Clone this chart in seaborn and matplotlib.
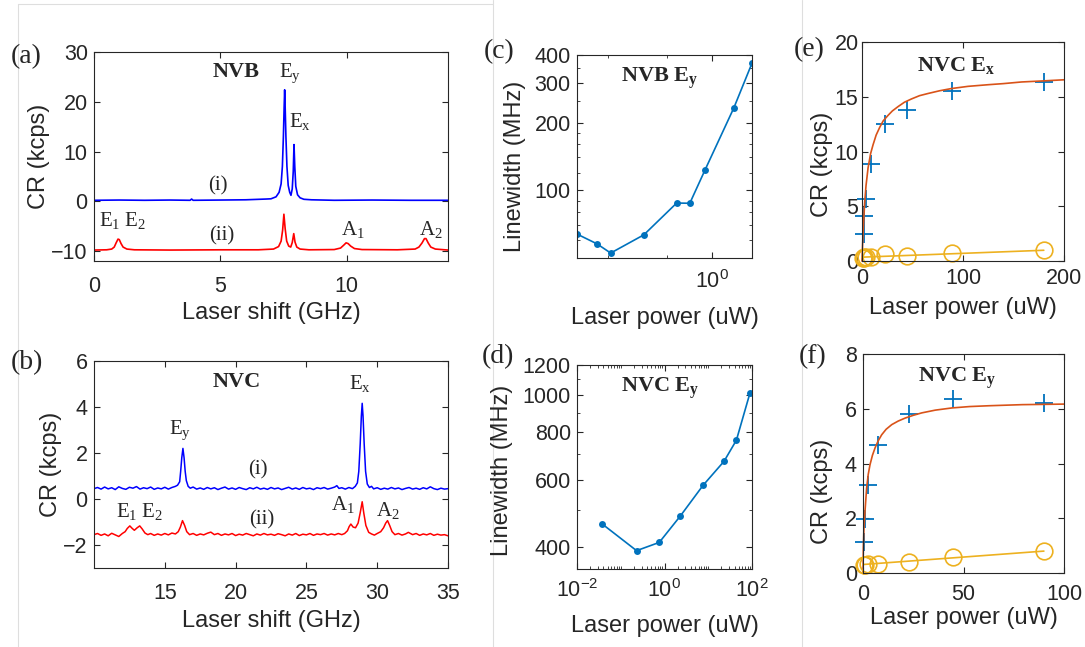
import matplotlib
matplotlib.use("Agg")
import matplotlib.pyplot as plt
import seaborn as sns
from matplotlib.lines import Line2D
from matplotlib.ticker import FixedLocator, NullFormatter, FixedFormatter, LogLocator
import numpy as np

# ---------------- data ----------------
# (a) NVB PLE spectra
nvb_i_x = [0, 1.0, 2.0, 3.0, 3.8, 3.86, 3.92, 5.0, 6.0, 6.8, 7.0, 7.2, 7.32, 7.4, 7.45, 7.49, 7.52, 7.54,
           7.56, 7.59, 7.63, 7.68, 7.74, 7.79, 7.84, 7.88, 7.91, 7.94, 7.98, 8.05, 8.15, 8.3, 8.6, 9.5, 11, 12.5, 14]
nvb_i_y = [0.2, 0.25, 0.2, 0.25, 0.2, 0.45, 0.2, 0.25, 0.3, 0.45, 0.5, 0.9, 1.8, 3.5, 7, 13, 19, 22.4,
           19, 13, 7, 3.2, 1.8, 1.2, 2.5, 6, 11.4, 7, 3, 1.3, 0.7, 0.4, 0.3, 0.2, 0.25, 0.2, 0.2]
nvb_ii_x = [0, 0.5, 0.7, 0.8, 0.88, 0.95, 1.0, 1.07, 1.15, 1.3, 1.6, 3, 5, 6.5, 7.1, 7.3, 7.4, 7.46, 7.51,
            7.56, 7.62, 7.7, 7.78, 7.84, 7.9, 7.95, 8.02, 8.15, 8.5, 9.5, 9.75, 9.88, 9.97, 10.05, 10.15,
            10.3, 10.6, 12, 12.7, 12.85, 12.97, 13.07, 13.13, 13.22, 13.32, 13.5, 14]
nvb_ii_y = [-9.8, -9.75, -9.6, -9.2, -8.3, -7.6, -7.7, -8.5, -9.2, -9.6, -9.75, -9.8, -9.75, -9.75, -9.6,
            -9.1, -8.0, -5.8, -2.6, -5.5, -8.0, -9.0, -9.2, -8.3, -6.5, -8.2, -9.2, -9.6, -9.75, -9.7, -9.4,
            -8.8, -8.35, -8.5, -9.0, -9.5, -9.7, -9.75, -9.6, -9.2, -8.4, -7.5, -7.5, -8.4, -9.2, -9.6, -9.8]

# (b) NVC PLE spectra
nvc_i_x = [10.0, 10.25, 10.5, 10.75, 11.0, 11.25, 11.5, 11.75, 12.0, 12.25, 12.5, 12.75, 13.0, 13.25,
           13.5, 13.75, 14.0, 14.25, 14.5, 14.75, 15.0, 15.25, 15.5, 15.75, 15.9,
           16.05, 16.12, 16.2, 16.28, 16.36, 16.44, 16.52, 16.65, 16.8,
           17.0, 17.25, 17.5, 17.75, 18.0, 18.25, 18.5, 18.75, 19.0, 19.25, 19.5, 19.75, 20.0, 20.25,
           20.5, 20.75, 21.0, 21.25, 21.5, 21.75, 22.0, 22.25, 22.5, 22.75, 23.0, 23.25, 23.5, 23.75,
           24.0, 24.25, 24.5, 24.75, 25.0, 25.25, 25.5, 25.75, 26.0, 26.25, 26.5, 26.75, 27.0, 27.15,
           27.3, 27.5, 27.75, 28.0, 28.25, 28.45,
           28.6, 28.7, 28.8, 28.88, 28.94, 29.0, 29.08, 29.18, 29.3, 29.45,
           29.6, 29.75, 30.0, 30.25, 30.5, 30.75, 31.0, 31.25, 31.5, 31.75, 32.0, 32.25, 32.5, 32.75,
           33.0, 33.25, 33.5, 33.75, 34.0, 34.25, 34.5, 34.75, 35.0]
nvc_i_y = [0.45, 0.50, 0.43, 0.52, 0.44, 0.49, 0.41, 0.53, 0.46, 0.42, 0.51, 0.47, 0.54, 0.43,
           0.49, 0.45, 0.52, 0.42, 0.48, 0.44, 0.51, 0.43, 0.50, 0.55, 0.60,
           0.75, 1.2, 1.8, 2.2, 1.8, 1.2, 0.8, 0.55, 0.47,
           0.52, 0.43, 0.48, 0.42, 0.50, 0.44, 0.49, 0.41, 0.47, 0.52, 0.43, 0.48, 0.42, 0.50,
           0.45, 0.41, 0.49, 0.44, 0.51, 0.43, 0.47, 0.42, 0.50, 0.44, 0.48, 0.41, 0.46, 0.51,
           0.43, 0.48, 0.42, 0.50, 0.44, 0.47, 0.41, 0.49, 0.45, 0.50, 0.43, 0.47, 0.52, 0.58,
           0.46, 0.49, 0.43, 0.50, 0.45, 0.55,
           0.7, 1.2, 2.4, 3.6, 4.16, 3.6, 2.4, 1.2, 0.65, 0.5,
           0.55, 0.44, 0.49, 0.42, 0.47, 0.43, 0.50, 0.44, 0.48, 0.41, 0.46, 0.50, 0.43, 0.47,
           0.42, 0.49, 0.44, 0.53, 0.45, 0.41, 0.47, 0.43, 0.45]
nvc_ii_x = [10.0, 10.25, 10.5, 10.75, 11.0, 11.25, 11.5, 11.75, 12.0, 12.2, 12.35, 12.53, 12.7, 12.85,
            13.05, 13.23, 13.4, 13.6, 13.8, 14.0, 14.25, 14.5, 14.75, 15.0, 15.25, 15.5, 15.75, 15.95,
            16.1, 16.25, 16.4, 16.55, 16.75, 17.0, 17.25, 17.5, 17.75, 18.0, 18.25, 18.5, 18.75, 19.0,
            19.25, 19.5, 19.75, 20.0, 20.25, 20.5, 20.75, 21.0, 21.25, 21.5, 21.75, 22.0, 22.25, 22.5,
            22.75, 23.0, 23.25, 23.5, 23.75, 24.0, 24.25, 24.5, 24.75, 25.0, 25.25, 25.5, 25.75, 26.0,
            26.25, 26.5, 26.75, 27.0, 27.25, 27.5, 27.7, 27.9, 28.02, 28.14, 28.3, 28.47, 28.65, 28.8,
            28.94, 29.05, 29.2, 29.4, 29.6, 29.8, 30.0, 30.25, 30.45, 30.6, 30.73, 30.88, 31.05, 31.25,
            31.5, 31.75, 32.0, 32.2, 32.5, 32.75, 33.0, 33.25, 33.5, 33.75, 34.0, 34.25, 34.5, 34.75, 35.0]
nvc_ii_y = [-1.55, -1.50, -1.58, -1.52, -1.60, -1.49, -1.56, -1.63, -1.50, -1.42, -1.28, -1.17, -1.28,
            -1.36, -1.25, -1.17, -1.30, -1.48, -1.55, -1.50, -1.58, -1.52, -1.57, -1.50, -1.56, -1.48,
            -1.52, -1.42, -1.22, -0.94, -1.15, -1.42, -1.55, -1.50, -1.58, -1.52, -1.56, -1.49, -1.44,
            -1.55, -1.50, -1.58, -1.52, -1.56, -1.50, -1.59, -1.53, -1.57, -1.50, -1.55, -1.60, -1.52,
            -1.57, -1.50, -1.56, -1.53, -1.58, -1.51, -1.55, -1.60, -1.52, -1.57, -1.50, -1.59, -1.53,
            -1.56, -1.50, -1.58, -1.52, -1.55, -1.50, -1.57, -1.52, -1.56, -1.50, -1.55, -1.50, -1.38,
            -1.20, -1.09, -1.22, -1.25, -1.05, -0.60, -0.12, -0.60, -1.15, -1.45, -1.52, -1.57, -1.50,
            -1.42, -1.25, -1.05, -0.94, -1.15, -1.42, -1.55, -1.50, -1.57, -1.52, -1.45, -1.55, -1.50,
            -1.58, -1.52, -1.56, -1.50, -1.58, -1.53, -1.57, -1.55, -1.60]

# (c) NVB Ey linewidth vs power
nvb_lw_power = [0.125, 0.17, 0.21, 0.35, 0.58, 0.71, 0.9, 1.4, 1.85]
nvb_lw = [63.9, 57.8, 52.6, 63.4, 87.8, 87.6, 123.7, 233, 368]

# (d) NVC Ey linewidth vs power
nvc_lw_power = [0.038, 0.23, 0.76, 2.3, 7.6, 23, 44, 90]
nvc_lw = [459, 391, 411, 482, 580, 671, 762, 1014]

# (e) NVC Ex saturation
ex_power = [1.5, 2.0, 3.7, 8.6, 23, 45, 89, 180]
ex_cr = [2.47, 4.07, 5.68, 8.83, 12.47, 13.77, 15.5, 16.35]
ex_bg_power = [0.5, 1.5, 2.0, 3.7, 8.6, 23, 45, 89, 180]
ex_bg_cr = [0.3, 0.3, 0.32, 0.33, 0.36, 0.68, 0.44, 0.75, 0.98]
ex_fit_x = [0, 0.5, 1.0, 1.8, 2.7, 4.0, 6.0, 8.5, 10.9, 14, 17.5, 21, 25.8, 30, 35.7, 42, 49, 57, 65.5,
            77, 88.6, 105, 125, 140, 158, 180, 200]
ex_fit_y = [0, 1.3, 2.4, 3.9, 5.4, 6.9, 8.5, 9.8, 10.6, 11.5, 12.2, 12.8, 13.3, 13.7, 14.1, 14.5, 14.8,
            15.1, 15.3, 15.55, 15.75, 15.95, 16.1, 16.2, 16.35, 16.45, 16.55]
ex_bgfit_x = [0, 180]
ex_bgfit_y = [0.35, 0.98]

# (f) NVC Ey saturation
ey_power = [0.5, 1.0, 2.7, 7.3, 22.7, 44.7, 90]
ey_cr = [1.12, 1.98, 3.2, 4.66, 5.81, 6.36, 6.21]
ey_bg_power = [0.5, 1.0, 2.7, 7.3, 22.7, 44.7, 90]
ey_bg_cr = [0.31, 0.31, 0.32, 0.34, 0.41, 0.59, 0.8]
ey_fit_x = [0, 0.17, 0.5, 1.0, 1.8, 2.6, 3.5, 4.7, 6, 7.5, 9.3, 11.5, 14.3, 17.5, 21, 25, 29.3, 36,
            44.3, 53, 62.7, 71, 79.3, 90, 100]
ey_fit_y = [0, 0.92, 1.7, 2.26, 3.1, 3.6, 3.96, 4.3, 4.57, 4.82, 5.05, 5.25, 5.42, 5.55, 5.66, 5.76,
            5.85, 5.95, 6.03, 6.08, 6.11, 6.13, 6.15, 6.16, 6.17]
ey_bgfit_x = [0, 90]
ey_bgfit_y = [0.31, 0.8]

# ---------------- style ----------------
sns.set_theme(style="ticks")
plt.rcParams.update({
    "font.family": ["Liberation Sans", "DejaVu Sans"],
    "mathtext.fontset": "custom",
    "mathtext.rm": "Liberation Serif",
    "mathtext.it": "Liberation Serif:italic",
    "mathtext.bf": "Liberation Serif:bold",
    "mathtext.sf": "Liberation Sans",
    "axes.edgecolor": "#262626",
    "axes.linewidth": 0.8,
    "xtick.color": "#262626",
    "ytick.color": "#262626",
    "xtick.labelcolor": "#262626",
    "ytick.labelcolor": "#262626",
    "axes.labelcolor": "#262626",
})

W, H = 1085, 647
fig = plt.figure(figsize=(W / 100, H / 100), dpi=100)


def add_ax(l, r, t, b):
    return fig.add_axes([l / W, (H - b) / H, (r - l) / W, (b - t) / H])


TICK_FS = 15.5
LABEL_FS = 17
SERIF = "Liberation Serif"


def style_ax(ax, xpad, ypad):
    ax.tick_params(which="both", direction="in", top=True, right=True)
    ax.tick_params(which="major", length=4, width=0.8, labelsize=TICK_FS)
    ax.tick_params(which="minor", length=2, width=0.6)
    ax.tick_params(axis="x", which="major", pad=xpad)
    ax.tick_params(axis="y", which="major", pad=ypad)
    for s in ax.spines.values():
        s.set_visible(True)
        s.set_color("#262626")
        s.set_linewidth(0.8)


def line(ax, x, y, color, lw=1.2, **kw):
    sns.lineplot(x=x, y=y, ax=ax, color=color, linewidth=lw, sort=False,
                 estimator=None, legend=False, **kw)


# ---------- (a) ----------
ax_a = add_ax(94, 448, 52, 261)
line(ax_a, nvb_i_x, nvb_i_y, "#0000FF")
line(ax_a, nvb_ii_x, nvb_ii_y, "#FF0000")
ax_a.set_xlim(0, 14)
ax_a.set_ylim(-12, 30)
ax_a.set_xticks([0, 5, 10])
ax_a.set_yticks([-10, 0, 10, 20, 30])
style_ax(ax_a, 11, 4.5)
ax_a.set_xlabel("Laser shift (GHz)", fontsize=LABEL_FS)
ax_a.set_ylabel("CR (kcps)", fontsize=LABEL_FS)
ax_a.xaxis.set_label_coords(0.5, -0.195)
ax_a.yaxis.set_label_coords(-0.124, 0.5)
ax_a.text(5.63, 25.9, "NVB", fontsize=16, fontweight="bold", family=SERIF, ha="center", va="center")
ax_a.text(7.74, 25.8, r"$\mathrm{E_y}$", fontsize=15, ha="center", va="center")
ax_a.text(8.13, 16.0, r"$\mathrm{E_x}$", fontsize=15, ha="center", va="center")
ax_a.text(4.9, 3.1, "(i)", fontsize=15, family=SERIF, ha="center", va="center")
ax_a.text(5.04, -6.9, "(ii)", fontsize=15, family=SERIF, ha="center", va="center")
ax_a.text(1.13, -3.9, r"$\mathrm{E_1\ E_2}$", fontsize=15, ha="center", va="center")
ax_a.text(10.24, -5.6, r"$\mathrm{A_1}$", fontsize=15, ha="center", va="center")
ax_a.text(13.33, -5.6, r"$\mathrm{A_2}$", fontsize=15, ha="center", va="center")

# ---------- (b) ----------
ax_b = add_ax(94, 448, 361, 568)
line(ax_b, nvc_i_x, nvc_i_y, "#0000FF", lw=1.1)
line(ax_b, nvc_ii_x, nvc_ii_y, "#FF0000", lw=1.1)
ax_b.set_xlim(10, 35)
ax_b.set_ylim(-3, 6)
ax_b.set_xticks([15, 20, 25, 30, 35])
ax_b.set_yticks([-2, 0, 2, 4, 6])
style_ax(ax_b, 11, 4.5)
ax_b.set_xlabel("Laser shift (GHz)", fontsize=LABEL_FS)
ax_b.set_ylabel("CR (kcps)", fontsize=LABEL_FS)
ax_b.xaxis.set_label_coords(0.5, -0.205)
ax_b.yaxis.set_label_coords(-0.091, 0.5)
ax_b.text(20.07, 5.1, "NVC", fontsize=16, fontweight="bold", family=SERIF, ha="center", va="center")
ax_b.text(28.78, 5.03, r"$\mathrm{E_x}$", fontsize=15, ha="center", va="center")
ax_b.text(16.06, 3.0, r"$\mathrm{E_y}$", fontsize=15, ha="center", va="center")
ax_b.text(21.6, 1.26, "(i)", fontsize=15, family=SERIF, ha="center", va="center")
ax_b.text(21.83, -0.91, "(ii)", fontsize=15, family=SERIF, ha="center", va="center")
ax_b.text(13.19, -0.55, r"$\mathrm{E_1\ E_2}$", fontsize=15, ha="center", va="center")
ax_b.text(27.6, -0.26, r"$\mathrm{A_1}$", fontsize=15, ha="center", va="center")
ax_b.text(30.74, -0.48, r"$\mathrm{A_2}$", fontsize=15, ha="center", va="center")

MBLUE = "#0072BD"
MRED = "#D95319"
MYEL = "#EDB120"

# ---------- (c) ----------
ax_c = add_ax(577, 752, 55, 258)
ax_c.set_xscale("log")
ax_c.set_yscale("log")
line(ax_c, nvb_lw_power, nvb_lw, MBLUE, lw=1.2, marker="o", markersize=5,
     markeredgecolor=MBLUE, markerfacecolor=MBLUE, markeredgewidth=0)
ax_c.set_xlim(0.125, 1.85)
ax_c.set_ylim(50, 400)
ax_c.xaxis.set_major_locator(FixedLocator([1]))
ax_c.xaxis.set_major_formatter(FixedFormatter([r"$\mathsf{10^{0}}$"]))
ax_c.xaxis.set_minor_locator(FixedLocator([0.2, 0.5]))
ax_c.xaxis.set_minor_formatter(NullFormatter())
ax_c.yaxis.set_major_locator(FixedLocator([100, 200, 300, 400]))
ax_c.yaxis.set_major_formatter(FixedFormatter(["100", "200", "300", "400"]))
ax_c.yaxis.set_minor_locator(FixedLocator([60, 70, 80, 90, 120, 140, 160, 180, 250, 350]))
ax_c.yaxis.set_minor_formatter(NullFormatter())
style_ax(ax_c, 9, 4.5)
ax_c.set_xlabel("Laser power (uW)", fontsize=LABEL_FS)
ax_c.set_ylabel("Linewidth (MHz)", fontsize=LABEL_FS)
ax_c.xaxis.set_label_coords(0.5, -0.24)
ax_c.yaxis.set_label_coords(-0.291, 0.45)
ax_c.text(0.474, 0.885, r"$\mathbf{NVB\ E_y}$", transform=ax_c.transAxes, fontsize=16,
          ha="center", va="center")

# ---------- (d) ----------
ax_d = add_ax(577, 752, 365, 569)
ax_d.set_xscale("log")
ax_d.set_yscale("log")
line(ax_d, nvc_lw_power, nvc_lw, MBLUE, lw=1.2, marker="o", markersize=5,
     markeredgecolor=MBLUE, markerfacecolor=MBLUE, markeredgewidth=0)
ax_d.set_xlim(0.01, 100)
ax_d.set_ylim(350, 1200)
ax_d.xaxis.set_major_locator(FixedLocator([0.01, 1, 100]))
ax_d.xaxis.set_major_formatter(FixedFormatter([r"$\mathsf{10^{-2}}$", r"$\mathsf{10^{0}}$",
                                               r"$\mathsf{10^{2}}$"]))
ax_d.xaxis.set_minor_locator(LogLocator(base=10, subs=np.arange(1, 10), numticks=20))
ax_d.xaxis.set_minor_formatter(NullFormatter())
ax_d.yaxis.set_major_locator(FixedLocator([400, 600, 800, 1000, 1200]))
ax_d.yaxis.set_major_formatter(FixedFormatter(["400", "600", "800", "1000", "1200"]))
ax_d.yaxis.set_minor_locator(FixedLocator([500, 700, 900, 1100]))
ax_d.yaxis.set_minor_formatter(NullFormatter())
style_ax(ax_d, 7, 4.5)
ax_d.set_xlabel("Laser power (uW)", fontsize=LABEL_FS)
ax_d.set_ylabel("Linewidth (MHz)", fontsize=LABEL_FS)
ax_d.xaxis.set_label_coords(0.5, -0.225)
ax_d.yaxis.set_label_coords(-0.364, 0.485)
ax_d.text(0.474, 0.886, r"$\mathbf{NVC\ E_y}$", transform=ax_d.transAxes, fontsize=16,
          ha="center", va="center")

# ---------- (e) ----------
ax_e = add_ax(862, 1064, 42, 261)
line(ax_e, ex_power, ex_cr, MBLUE, linestyle="none", marker="+", markersize=13,
     markeredgecolor=MBLUE, markeredgewidth=1.3)
line(ax_e, ex_fit_x, ex_fit_y, MRED, lw=1.2)
line(ax_e, ex_bgfit_x, ex_bgfit_y, MYEL, lw=1.2)
line(ax_e, ex_bg_power, ex_bg_cr, MYEL, linestyle="none", marker="o", markersize=12,
     markeredgecolor=MYEL, markerfacecolor="none", markeredgewidth=1.2)
ax_e.set_xlim(0, 200)
ax_e.set_ylim(0, 20)
ax_e.set_xticks([0, 100, 200])
ax_e.set_yticks([0, 5, 10, 15, 20])
style_ax(ax_e, 5, 2.5)
ax_e.set_xlabel("Laser power (uW)", fontsize=LABEL_FS)
ax_e.set_ylabel("CR (kcps)", fontsize=LABEL_FS)
ax_e.xaxis.set_label_coords(0.5, -0.165)
ax_e.yaxis.set_label_coords(-0.145, 0.443)
ax_e.text(0.468, 0.891, r"$\mathbf{NVC\ E_x}$", transform=ax_e.transAxes, fontsize=16,
          ha="center", va="center")

# ---------- (f) ----------
ax_f = add_ax(863, 1064, 354, 573)
line(ax_f, ey_power, ey_cr, MBLUE, linestyle="none", marker="+", markersize=13,
     markeredgecolor=MBLUE, markeredgewidth=1.3)
line(ax_f, ey_fit_x, ey_fit_y, MRED, lw=1.2)
line(ax_f, ey_bgfit_x, ey_bgfit_y, MYEL, lw=1.2)
line(ax_f, ey_bg_power, ey_bg_cr, MYEL, linestyle="none", marker="o", markersize=12,
     markeredgecolor=MYEL, markerfacecolor="none", markeredgewidth=1.2)
ax_f.set_xlim(0, 100)
ax_f.set_ylim(0, 8)
ax_f.set_xticks([0, 50, 100])
ax_f.set_yticks([0, 2, 4, 6, 8])
style_ax(ax_f, 8, 4.5)
ax_f.set_xlabel("Laser power (uW)", fontsize=LABEL_FS)
ax_f.set_ylabel("CR (kcps)", fontsize=LABEL_FS)
ax_f.xaxis.set_label_coords(0.5, -0.157)
ax_f.yaxis.set_label_coords(-0.148, 0.373)
ax_f.text(0.467, 0.889, r"$\mathbf{NVC\ E_y}$", transform=ax_f.transAxes, fontsize=16,
          ha="center", va="center")

for ax in (ax_e, ax_f):
    for art in ax.lines:
        art.set_clip_on(False)

# ---------- panel labels ----------
for lab, px, py in [("(a)", 26, 57), ("(b)", 27, 363), ("(c)", 499, 52),
                    ("(d)", 498, 357), ("(e)", 809, 50), ("(f)", 813, 357)]:
    fig.text(px / W, 1 - py / H, lab, family=SERIF, fontsize=20, ha="center", va="center")

# faint frame lines of the page layout
sep = "#dedede"
fig.add_artist(Line2D([18 / W, 18 / W], [0, 1 - 4 / H], color=sep, lw=0.8, zorder=0))
fig.add_artist(Line2D([18 / W, 493 / W], [1 - 4 / H, 1 - 4 / H], color=sep, lw=0.8, zorder=0))
fig.add_artist(Line2D([493 / W, 493 / W], [0, 1], color=sep, lw=0.8, zorder=0))
fig.add_artist(Line2D([802 / W, 802 / W], [0, 1], color=sep, lw=0.8, zorder=0))

fig.savefig("out.png", dpi=100)
